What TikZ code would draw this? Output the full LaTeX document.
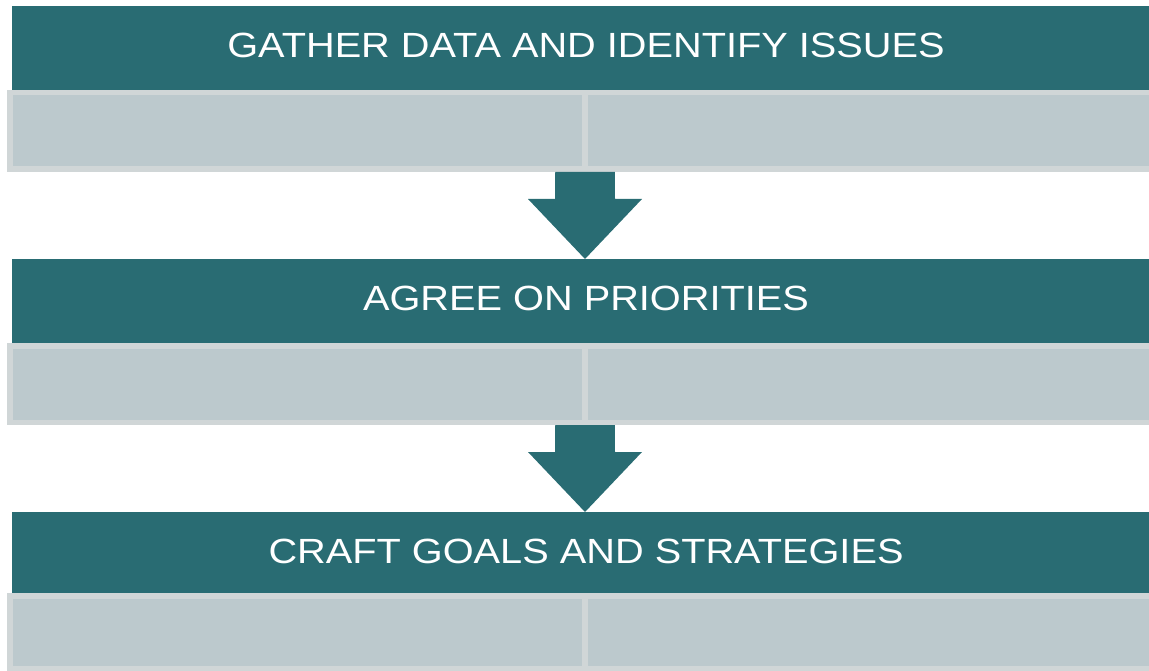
\documentclass[tikz,border=0pt]{standalone}
\usepackage{fontspec}
\setmainfont{Liberation Sans}
\usetikzlibrary{calc}
\definecolor{teal}{HTML}{296C73}
\definecolor{panel}{HTML}{BCC9CD}
\definecolor{panelrim}{HTML}{D0D6D7}
\tikzset{
  header/.style={fill=teal, inner sep=0pt, outer sep=0pt, minimum width=1146pt, anchor=north},
  title/.style={text=white, inner sep=0pt, xscale=1.135, font=\fontsize{35}{35}\selectfont},
  panelbox/.style={fill=panel, draw=panelrim, line width=5.5pt, inner sep=0pt, outer sep=0pt,
    minimum width=575.5pt, anchor=north},
  flowarrow/.style={fill=teal}
}
\begin{document}
\begin{tikzpicture}[x=1pt,y=-1pt]
\useasboundingbox (0,0) rectangle (1149,671);
\clip (0,0) rectangle (1149,671);

% stage 1
\node[header, minimum height=84pt] (h1) at (585,6) {};
\node[title] (t1) at (586,45) {GATHER DATA AND IDENTIFY ISSUES};
\node[panelbox, minimum height=76.5pt] (g1l) at (297.5,92.75) {};
\node[panelbox, minimum height=76.5pt] (g1r) at (872.5,92.75) {};

% stage 2
\node[header, minimum height=84pt] (h2) at (585,259) {};
\node[title] (t2) at (586,298) {AGREE ON PRIORITIES};
\node[panelbox, minimum height=76.5pt] (g2l) at (297.5,345.75) {};
\node[panelbox, minimum height=76.5pt] (g2r) at (872.5,345.75) {};

% stage 3
\node[header, minimum height=81pt] (h3) at (585,512) {};
\node[title] (t3) at (586,551) {CRAFT GOALS AND STRATEGIES};
\node[panelbox, minimum height=72.5pt] (g3l) at (297.5,595.75) {};
\node[panelbox, minimum height=72.5pt] (g3r) at (872.5,595.75) {};

% block arrows between stages
\foreach \g/\h in {g1l/h2, g2l/h3}{
  \coordinate (top) at ($(\g.south east)+(0,2.75)$);
  \fill[flowarrow] ($(top)+(-30,0)$) -- ($(\h.north)+(-30,-60)$) -- ($(\h.north)+(-57,-60)$)
    -- (\h.north) -- ($(\h.north)+(57,-60)$) -- ($(\h.north)+(30,-60)$)
    -- ($(top)+(29.5,0)$) -- cycle;
}
\end{tikzpicture}
\end{document}
